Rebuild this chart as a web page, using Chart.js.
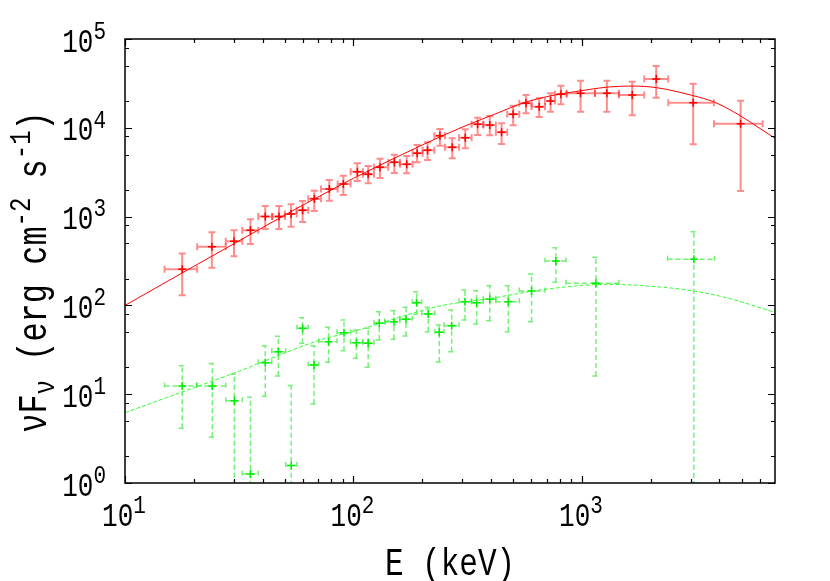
<!DOCTYPE html>
<html>
<head>
<meta charset="utf-8">
<script src="https://cdn.jsdelivr.net/npm/chart.js@4.4.1/dist/chart.umd.min.js"></script>
<style>
  html, body { margin: 0; padding: 0; background: #fff; }
</style>
</head>
<body>
<canvas id="c" width="830" height="581"></canvas>
<script>
// burst 1 (red): energy, energy range, nuFnu, nuFnu range
const redE   = [17.8, 24.0, 30.0, 35.4, 41.1, 47.2, 53.3, 59.9, 67.4, 78.4, 90.3, 104, 116, 130.6, 151, 171, 190, 211, 239, 270.6, 308.5, 349.5, 395, 445, 500, 569, 650, 729, 809, 986, 1286, 1660, 2114, 3069, 4949];
const redElo = [14.9, 20.7, 27.6, 32.6, 38.3, 44.1, 50.1, 56.4, 63.4, 72.1, 85.3, 97.2, 110, 123, 142, 159.7, 181.5, 200.8, 226, 251.5, 290, 329, 370, 420, 471, 531.8, 602, 689, 762, 857, 1140, 1452, 1874, 2387, 3783];
const redEhi = [20.7, 27.6, 32.6, 38.3, 44.1, 50.1, 56.4, 63.4, 72.1, 85.3, 97.2, 110, 123, 142, 159.7, 181.5, 200.8, 226, 251.5, 290, 329, 370, 420, 471, 531.8, 602, 689, 762, 857, 1140, 1452, 1874, 2387, 3783, 6179];
const redF   = [255, 458, 527, 700, 1000, 1000, 1070, 1177, 1592, 2046, 2330, 3206, 2994, 3589, 4085, 3882, 5164, 5572, 8150, 6030, 7746, 10946, 10764, 8894, 14190, 18880, 17300, 20040, 23820, 24430, 24430, 23400, 35440, 19180, 11120];
const redFlo = [130, 266, 357, 491, 725, 725, 769, 869, 1156, 1510, 1750, 2518, 2371, 2722, 3097, 3070, 4085, 4340, 6290, 4535, 5875, 8298, 8225, 6570, 10660, 14560, 13240, 15200, 18380, 15200, 15200, 13830, 21830, 6520, 1943];
const redFhi = [385, 665, 701, 931, 1316, 1316, 1374, 1500, 1958, 2584, 2893, 3981, 3715, 4487, 4980, 4812, 6398, 6855, 9694, 7608, 9617, 13000, 13590, 11225, 17740, 23400, 21480, 24430, 29780, 33900, 33900, 33050, 49660, 31400, 20190];

// burst 2 (green)
const grnE   = [17.8, 24.1, 30.1, 35.4, 41.1, 46.9, 53.4, 59.9, 67.2, 77.8, 90.9, 103, 116, 129.7, 150.4, 169.8, 189, 212.5, 237.5, 269, 307.6, 346, 395, 476, 602, 769, 1151, 3091];
const grnElo = [14.9, 20.6, 27.6, 32.6, 38.3, 43.9, 50.5, 56.6, 63.4, 70.5, 84.7, 97.2, 109.7, 123, 137.4, 159.7, 181, 198.8, 227, 248.9, 290, 329, 370, 420, 532, 689, 851, 2371];
const grnEhi = [20.6, 27.6, 32.6, 38.3, 43.9, 50.5, 56.6, 63.4, 70.5, 84.7, 97.2, 109.7, 123, 137.4, 159.7, 181, 198.8, 227, 248.9, 290, 329, 370, 420, 532, 689, 851, 1452, 3809];
const grnF   = [12.4, 12.4, 8.45, 1.26, 22.6, 30.1, 1.57, 55.2, 21.3, 39, 49.3, 38.0, 37.4, 62.8, 65.6, 69.7, 107.4, 80.0, 49.8, 59.1, 110.1, 107.4, 117.2, 110.1, 145.2, 316, 177.4, 330];
const grnFlo = [4.13, 3.27, 0.5, 0.5, 9.47, 16.0, 0.5, 37.4, 7.76, 22.9, 30.9, 25.4, 20.1, 40.7, 41.5, 45.2, 79.4, 50.6, 23, 30.1, 68.5, 61.8, 67.3, 50.6, 65.6, 182, 16.0, 0.5];
const grnFhi = [20.9, 22.1, 16.8, 9.22, 35.2, 44.9, 12.5, 72.8, 35.2, 56.7, 68.5, 52.8, 55.3, 84.9, 87.3, 95.1, 142.9, 95.1, 60.1, 88.8, 149, 146.5, 166.7, 166.7, 225.7, 447, 347.6, 676];

// model curves
const redModelE = [10, 20, 30, 58.3, 75, 100, 200, 300, 437, 535, 700, 979, 1300, 1677, 2123, 3069, 3755, 4300, 4949, 5624, 7000];
const redModelF = [100, 275, 495, 1294, 1829, 2700, 6400, 10200, 15000, 18500, 22400, 26000, 28800, 29500, 28300, 23000, 19700, 16700, 13600, 11000, 7620];
const grnModelE = [10, 30, 71.3, 100, 239, 400, 655, 1282, 2270, 3091, 4295, 7000];
const grnModelF = [6.2, 17.3, 40.7, 51, 98.5, 120, 149, 172.6, 160, 145, 122, 83.6];

// axes
const xMin = 10, xMax = 7000, yMin = 1, yMax = 1e5;
const xMajor = [10, 100, 1000];
const xMinor = [20, 30, 40, 50, 60, 70, 80, 90, 200, 300, 400, 500, 600, 700, 800, 900, 2000, 3000, 4000, 5000, 6000];
const yMajor = [1, 10, 100, 1000, 10000, 100000];
const yMinor = [2, 5, 8, 20, 50, 80, 200, 500, 800, 2000, 5000, 8000, 20000, 50000, 80000];

const FONT = '"Liberation Mono", "DejaVu Sans Mono", monospace';
const STRETCH = 1.25;

const pts = (xs, ys) => xs.map((x, i) => ({ x: x, y: ys[i] }));

function richText(ctx, parts, x, y, align) {
	let w = 0;
	parts.forEach(p => {
		ctx.font = p.size + 'px ' + FONT;
		p.w = ctx.measureText(p.t).width;
		w += p.w;
	});
	let cx = align === 'right' ? -w : (align === 'center' ? -w / 2 : 0);
	ctx.save();
	ctx.translate(x, y);
	ctx.scale(1, STRETCH);
	parts.forEach(p => {
		ctx.font = p.size + 'px ' + FONT;
		ctx.fillText(p.t, cx, p.dy);
		cx += p.w;
	});
	ctx.restore();
}

const errorBars = {
	id: 'errorBars',
	beforeDatasetsDraw(chart) {
		const ctx = chart.ctx, xs = chart.scales.x, ys = chart.scales.y, a = chart.chartArea;
		ctx.save();
		ctx.beginPath();
		ctx.rect(a.left, a.top, a.right - a.left, a.bottom - a.top);
		ctx.clip();
		chart.data.datasets.forEach(ds => {
			if (!ds.err) return;
			const e = ds.err, c = 3.5;
			ctx.strokeStyle = e.color;
			ctx.lineWidth = e.width;
			ctx.setLineDash(e.dash);
			ds.data.forEach((p, i) => {
				const x = xs.getPixelForValue(p.x), y = ys.getPixelForValue(p.y);
				const x0 = xs.getPixelForValue(e.xlo[i]), x1 = xs.getPixelForValue(e.xhi[i]);
				const y0 = ys.getPixelForValue(e.ylo[i]), y1 = ys.getPixelForValue(e.yhi[i]);
				ctx.beginPath();
				ctx.moveTo(x0, y); ctx.lineTo(x1, y);
				ctx.moveTo(x0, y - c); ctx.lineTo(x0, y + c);
				ctx.moveTo(x1, y - c); ctx.lineTo(x1, y + c);
				ctx.stroke();
				ctx.beginPath();
				ctx.moveTo(x, y0); ctx.lineTo(x, y1);
				ctx.moveTo(x - c, y0); ctx.lineTo(x + c, y0);
				ctx.moveTo(x - c, y1); ctx.lineTo(x + c, y1);
				ctx.stroke();
			});
		});
		ctx.restore();
	}
};

const frame = {
	id: 'frame',
	afterDraw(chart) {
		const ctx = chart.ctx, xs = chart.scales.x, ys = chart.scales.y, a = chart.chartArea;
		ctx.save();
		ctx.strokeStyle = '#000';
		ctx.lineWidth = 1.5;
		ctx.strokeRect(a.left, a.top, a.right - a.left, a.bottom - a.top);
		ctx.lineWidth = 1.2;
		ctx.beginPath();
		const xt = (v, len) => {
			const px = Math.round(xs.getPixelForValue(v)) + 0.5;
			ctx.moveTo(px, a.bottom); ctx.lineTo(px, a.bottom - len);
			ctx.moveTo(px, a.top); ctx.lineTo(px, a.top + len);
		};
		const yt = (v, len) => {
			const py = Math.round(ys.getPixelForValue(v)) + 0.5;
			ctx.moveTo(a.left, py); ctx.lineTo(a.left + len, py);
			ctx.moveTo(a.right, py); ctx.lineTo(a.right - len, py);
		};
		xMajor.forEach(v => xt(v, 7));
		xMinor.forEach(v => xt(v, 4));
		yMajor.forEach(v => yt(v, 7));
		yMinor.forEach(v => yt(v, 4));
		ctx.stroke();

		ctx.fillStyle = '#000';
		ctx.textBaseline = 'middle';
		xMajor.forEach(v => {
			const ex = String(Math.round(Math.log10(v)));
			richText(ctx, [{ t: '10', size: 26, dy: 0 }, { t: ex, size: 21, dy: -9 }],
				xs.getPixelForValue(v) - 1, 517, 'center');
		});
		yMajor.forEach(v => {
			const ex = String(Math.round(Math.log10(v)));
			richText(ctx, [{ t: '10', size: 26, dy: 0 }, { t: ex, size: 21, dy: -9 }],
				106, ys.getPixelForValue(v) + 4, 'right');
		});

		// axis titles
		ctx.textBaseline = 'alphabetic';
		richText(ctx, [{ t: 'E (keV)', size: 31, dy: 0 }], (a.left + a.right) / 2, 575, 'center');
		ctx.save();
		ctx.translate(46, (a.top + a.bottom) / 2 + 11);
		ctx.rotate(-Math.PI / 2);
		richText(ctx, [
			{ t: '\u03bdF', size: 32, dy: 0 },
			{ t: '\u03bd', size: 24, dy: 6 },
			{ t: ' (erg cm', size: 32, dy: 0 },
			{ t: '-2', size: 24, dy: -13 },
			{ t: ' s', size: 32, dy: 0 },
			{ t: '-1', size: 24, dy: -13 },
			{ t: ')', size: 32, dy: 0 }
		], 0, 0, 'center');
		ctx.restore();
		ctx.restore();
	}
};

new Chart(document.getElementById('c'), {
	type: 'line',
	data: {
		datasets: [
			{
				label: 'burst 1 model',
				data: pts(redModelE, redModelF),
				borderColor: '#ff0000',
				borderWidth: 1,
				pointRadius: 0,
				cubicInterpolationMode: 'monotone',
				fill: false
			},
			{
				label: 'burst 2 model',
				data: pts(grnModelE, grnModelF),
				borderColor: '#33ff33',
				borderWidth: 1,
				borderDash: [4, 2],
				pointRadius: 0,
				cubicInterpolationMode: 'monotone',
				fill: false
			},
			{
				label: 'burst 1',
				data: pts(redE, redF),
				showLine: false,
				pointStyle: 'cross',
				pointRadius: 4,
				pointBorderWidth: 1.5,
				pointBorderColor: '#ff0000',
				err: { xlo: redElo, xhi: redEhi, ylo: redFlo, yhi: redFhi, color: 'rgba(255,0,0,0.45)', width: 2, dash: [] }
			},
			{
				label: 'burst 2',
				data: pts(grnE, grnF),
				showLine: false,
				pointStyle: 'cross',
				pointRadius: 4,
				pointBorderWidth: 1.5,
				pointBorderColor: '#00ee00',
				err: { xlo: grnElo, xhi: grnEhi, ylo: grnFlo, yhi: grnFhi, color: 'rgba(0,230,0,0.55)', width: 1.5, dash: [5, 3] }
			}
		]
	},
	options: {
		responsive: false,
		animation: false,
		devicePixelRatio: 1,
		layout: { padding: { left: 125, right: 55, top: 39, bottom: 98 } },
		plugins: { legend: { display: false }, tooltip: { enabled: false } },
		scales: {
			x: { type: 'logarithmic', min: xMin, max: xMax, display: false },
			y: { type: 'logarithmic', min: yMin, max: yMax, display: false }
		}
	},
	plugins: [errorBars, frame]
});
</script>
</body>
</html>
